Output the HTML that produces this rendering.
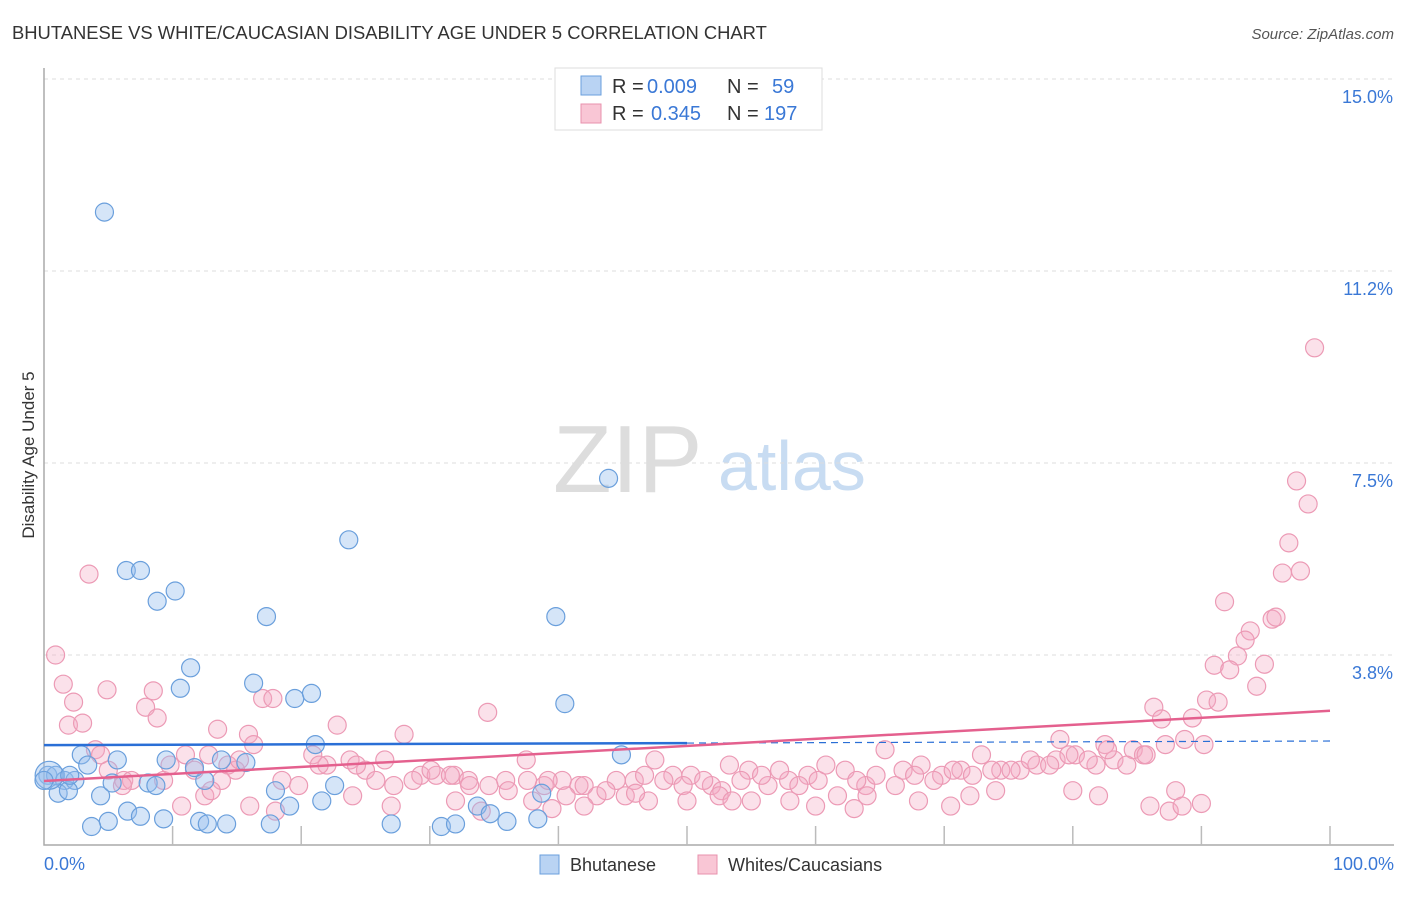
<!DOCTYPE html>
<html><head><meta charset="utf-8"><style>
body{margin:0;background:#fff;font-family:"Liberation Sans",sans-serif;}
svg text{font-family:"Liberation Sans",sans-serif;}
</style></head><body>
<svg id="chart" width="1406" height="892" viewBox="0 0 1406 892" xmlns="http://www.w3.org/2000/svg">
<text x="12" y="39" font-size="18.4" fill="#333">BHUTANESE VS WHITE/CAUCASIAN DISABILITY AGE UNDER 5 CORRELATION CHART</text>
<text x="1394" y="39" font-size="15" fill="#555" text-anchor="end" font-style="italic">Source: ZipAtlas.com</text>
<text x="553" y="492" font-size="96" fill="#ddd" font-family="Liberation Serif,serif">ZIP</text>
<text x="718" y="490" font-size="70" fill="#c8dcf2">atlas</text>
<text transform="translate(34,455) rotate(-90)" font-size="17" fill="#333" text-anchor="middle">Disability Age Under 5</text>
<g id="grid"></g>
<g id="axes"></g>
<g id="marks"></g>
<g>
<rect x="555" y="68" width="267" height="62" fill="#fff" stroke="#ddd"/>
<rect x="581" y="76" width="20" height="19" fill="#b9d3f3" stroke="#6a9fdc"/>
<rect x="581" y="104" width="20" height="19" fill="#f9c6d5" stroke="#e891ad"/>
<text x="612" y="93" font-size="20" fill="#333">R =</text>
<text x="647" y="93" font-size="20" fill="#3a78d6">0.009</text>
<text x="727" y="93" font-size="20" fill="#333">N =</text>
<text x="772" y="93" font-size="20" fill="#3a78d6">59</text>
<text x="612" y="120" font-size="20" fill="#333">R =</text>
<text x="651" y="120" font-size="20" fill="#3a78d6">0.345</text>
<text x="727" y="120" font-size="20" fill="#333">N =</text>
<text x="764" y="120" font-size="20" fill="#3a78d6">197</text>
</g>
<g>
<rect x="540" y="855" width="19" height="19" fill="#b9d3f3" stroke="#6a9fdc"/>
<text x="570" y="871" font-size="18" fill="#333">Bhutanese</text>
<rect x="698" y="855" width="19" height="19" fill="#f9c6d5" stroke="#e891ad"/>
<text x="728" y="871" font-size="18" fill="#333">Whites/Caucasians</text>
</g>
</svg>
<script>
const yTicks=[3.8,7.5,11.2,15.0];
const yTickVals=[3.75,7.5,11.25,15];
const xTickLabels=["0.0%","100.0%"];
const blueX=[4.7,6.4,7.5,8.8,10.2,17.3,23.7,39.8,43.9,11.4,10.6,16.3,19.5,20.8,40.5,21.1,44.9,2.9,3.4,5.7,9.5,13.8,0.3,0.9,1.6,2.4,1.1,1.9,4.4,5.3,8.1,8.7,12.5,18.0,19.1,21.6,22.6,38.7,33.7,34.7,5.0,3.7,6.5,7.5,9.3,12.1,12.7,14.2,17.6,27.0,30.9,32.0,36.0,38.4,0.4,11.7,15.7,0.0,2.0];
const blueY=[12.4,5.4,5.4,4.8,5.0,4.5,6.0,4.5,7.2,3.5,3.1,3.2,2.9,3.0,2.8,2.0,1.8,1.8,1.6,1.7,1.7,1.7,1.4,1.4,1.3,1.3,1.05,1.1,1.0,1.25,1.25,1.2,1.3,1.1,0.8,0.9,1.2,1.05,0.8,0.65,0.5,0.4,0.7,0.6,0.55,0.5,0.45,0.45,0.45,0.45,0.4,0.45,0.5,0.55,1.4,1.55,1.65,1.3,1.4];
const pinkX=[
0.9,1.5,2.3,1.9,3.0,3.5,4.9,8.5,7.9,8.8,
4.0,4.4,6.2,6.8,6.1,5.0,9.3,9.8,11.0,11.7,
12.8,13.5,14.3,14.9,13.8,15.2,15.9,16.3,17.0,17.8,
12.5,10.7,20.9,22.0,23.8,25.0,26.5,28.0,29.3,30.5,
31.9,33.0,34.5,35.9,37.5,38.9,40.3,41.6,43.0,44.5,
45.9,47.5,48.9,50.3,51.9,53.3,54.8,56.3,57.9,59.4,
60.8,62.3,63.9,65.4,66.8,68.2,69.8,71.3,72.9,74.4,
75.9,77.2,78.7,80.2,81.8,83.2,84.7,85.5,82.5,79.0,
98.8,97.4,98.3,96.8,96.3,97.7,91.8,93.8,93.4,92.8,91.0,92.2,94.9,95.5,95.8,94.3,90.4,91.3,86.3,86.9,89.3,
18.5,19.8,21.4,22.8,24.3,25.8,27.2,28.7,30.1,31.6,
33.1,34.6,36.1,37.6,39.2,40.6,42.0,43.7,45.2,46.7,
48.2,49.7,51.3,52.7,54.2,55.8,57.2,58.7,60.2,61.7,
63.2,64.7,66.2,67.7,69.2,70.7,72.2,73.7,75.2,76.7,
78.2,79.7,81.2,82.7,84.2,85.7,87.2,88.7,90.2,27.0,
34.0,42.0,50.0,55.0,60.0,68.0,74.0,82.0,88.0,16.0,
18.0,24.0,32.0,38.0,47.0,52.5,58.0,64.0,72.0,80.0,
86.0,87.5,88.5,90.0,70.5,63.0,53.5,46.0,39.5,13.0];
const pinkY=[
3.75,3.18,2.83,2.38,2.42,5.33,3.07,3.05,2.73,2.52,
1.9,1.8,1.3,1.3,1.2,1.5,1.3,1.6,1.8,1.5,
1.8,2.3,1.6,1.5,1.3,1.7,2.2,2.0,2.9,2.9,
1.0,0.8,1.8,1.6,1.7,1.5,1.7,2.2,1.4,1.4,
1.4,1.3,2.63,1.3,1.7,1.2,1.3,1.2,1.0,1.3,
1.3,1.7,1.4,1.4,1.2,1.6,1.5,1.2,1.3,1.4,
1.6,1.5,1.2,1.9,1.5,1.6,1.4,1.5,1.8,1.5,
1.5,1.6,1.7,1.8,1.6,1.7,1.9,1.8,2.0,2.1,
9.75,7.15,6.7,5.94,5.35,5.39,4.79,4.22,4.04,3.73,3.55,3.46,3.57,4.45,4.49,3.14,2.87,2.83,2.73,2.5,2.52,
1.3,1.2,1.6,2.38,1.6,1.3,1.2,1.3,1.5,1.4,
1.2,1.2,1.1,1.3,1.3,1.0,1.2,1.1,1.0,1.4,
1.3,1.2,1.3,1.1,1.3,1.4,1.5,1.2,1.3,1.0,
1.3,1.4,1.2,1.4,1.3,1.5,1.4,1.5,1.5,1.7,
1.6,1.8,1.7,1.9,1.6,1.8,2.0,2.1,2.0,0.8,
0.7,0.8,0.9,0.9,0.8,0.9,1.1,1.0,1.1,0.8,
0.7,1.0,0.9,0.9,0.9,1.0,0.9,1.0,1.0,1.1,
0.8,0.7,0.8,0.85,0.8,0.75,0.9,1.05,0.75,1.1];
const blueTrend=[1.99,2.07];
const pinkTrend=[1.29,2.66];
const NS="http://www.w3.org/2000/svg";
const X0=44,PX=(1330-44)/100,Y0=847,PY=192/3.75;
function sx(v){return X0+v*PX;}
function sy(v){return Y0-v*PY;}
function mk(tag,attrs,parent){const e=document.createElementNS(NS,tag);for(const k in attrs)e.setAttribute(k,attrs[k]);parent.appendChild(e);return e;}
const grid=document.getElementById('grid'),axes=document.getElementById('axes'),marks=document.getElementById('marks');
yTickVals.forEach((v,i)=>{
 const l=mk('line',{x1:44,x2:1394,y1:sy(v),y2:sy(v),stroke:'#ddd','stroke-dasharray':'4,4'},grid);
 
 
 const t=mk('text',{x:1393,y:sy(v)+24,'font-size':18,fill:'#3a78d6','text-anchor':'end'},grid);
 t.textContent=yTicks[i].toFixed(1)+'%';
 
 
});
const ax=mk('path',{d:'M44,68 V845 H1394',fill:'none',stroke:'#aaa','stroke-width':1.5},axes);


for(let i=1;i<=10;i++){
 const tk=mk('line',{x1:sx(i*10),x2:sx(i*10),y1:826,y2:845,stroke:'#bbb','stroke-width':1.5},axes);
 
 
}
const xl0=mk('text',{x:44,y:870,'font-size':18,fill:'#3a78d6'},axes);xl0.textContent=xTickLabels[0];


const xl1=mk('text',{x:1394,y:870,'font-size':18,fill:'#3a78d6','text-anchor':'end'},axes);xl1.textContent=xTickLabels[1];


const n=Math.min(pinkX.length,pinkY.length);
for(let i=0;i<n;i++){
 const c=mk('circle',{cx:sx(pinkX[i]),cy:sy(pinkY[i]),r:9,fill:'rgba(244,170,194,0.35)',stroke:'#ec9ab5','stroke-width':1.2},marks);
 
 
}
blueX.forEach((x,i)=>{
 const c=mk('circle',{cx:sx(x),cy:sy(blueY[i]),r:(i==54?14:9),fill:'rgba(150,190,238,0.4)',stroke:'#6a9fdc','stroke-width':1.2},marks);
 
 
});
const bmid=blueTrend[0]+(blueTrend[1]-blueTrend[0])*0.5;
const bt=mk('line',{x1:sx(0),y1:sy(blueTrend[0]),x2:sx(50),y2:sy(bmid),stroke:'#2a6fd6','stroke-width':2.5},marks);


const bd=mk('line',{x1:sx(50),y1:sy(bmid),x2:sx(100),y2:sy(blueTrend[1]),stroke:'#2a6fd6','stroke-width':1.2,'stroke-dasharray':'7,5'},marks);


const pt=mk('line',{x1:sx(0),y1:sy(pinkTrend[0]),x2:sx(100),y2:sy(pinkTrend[1]),stroke:'#e4608e','stroke-width':2.5},marks);


</script>
</body></html>
